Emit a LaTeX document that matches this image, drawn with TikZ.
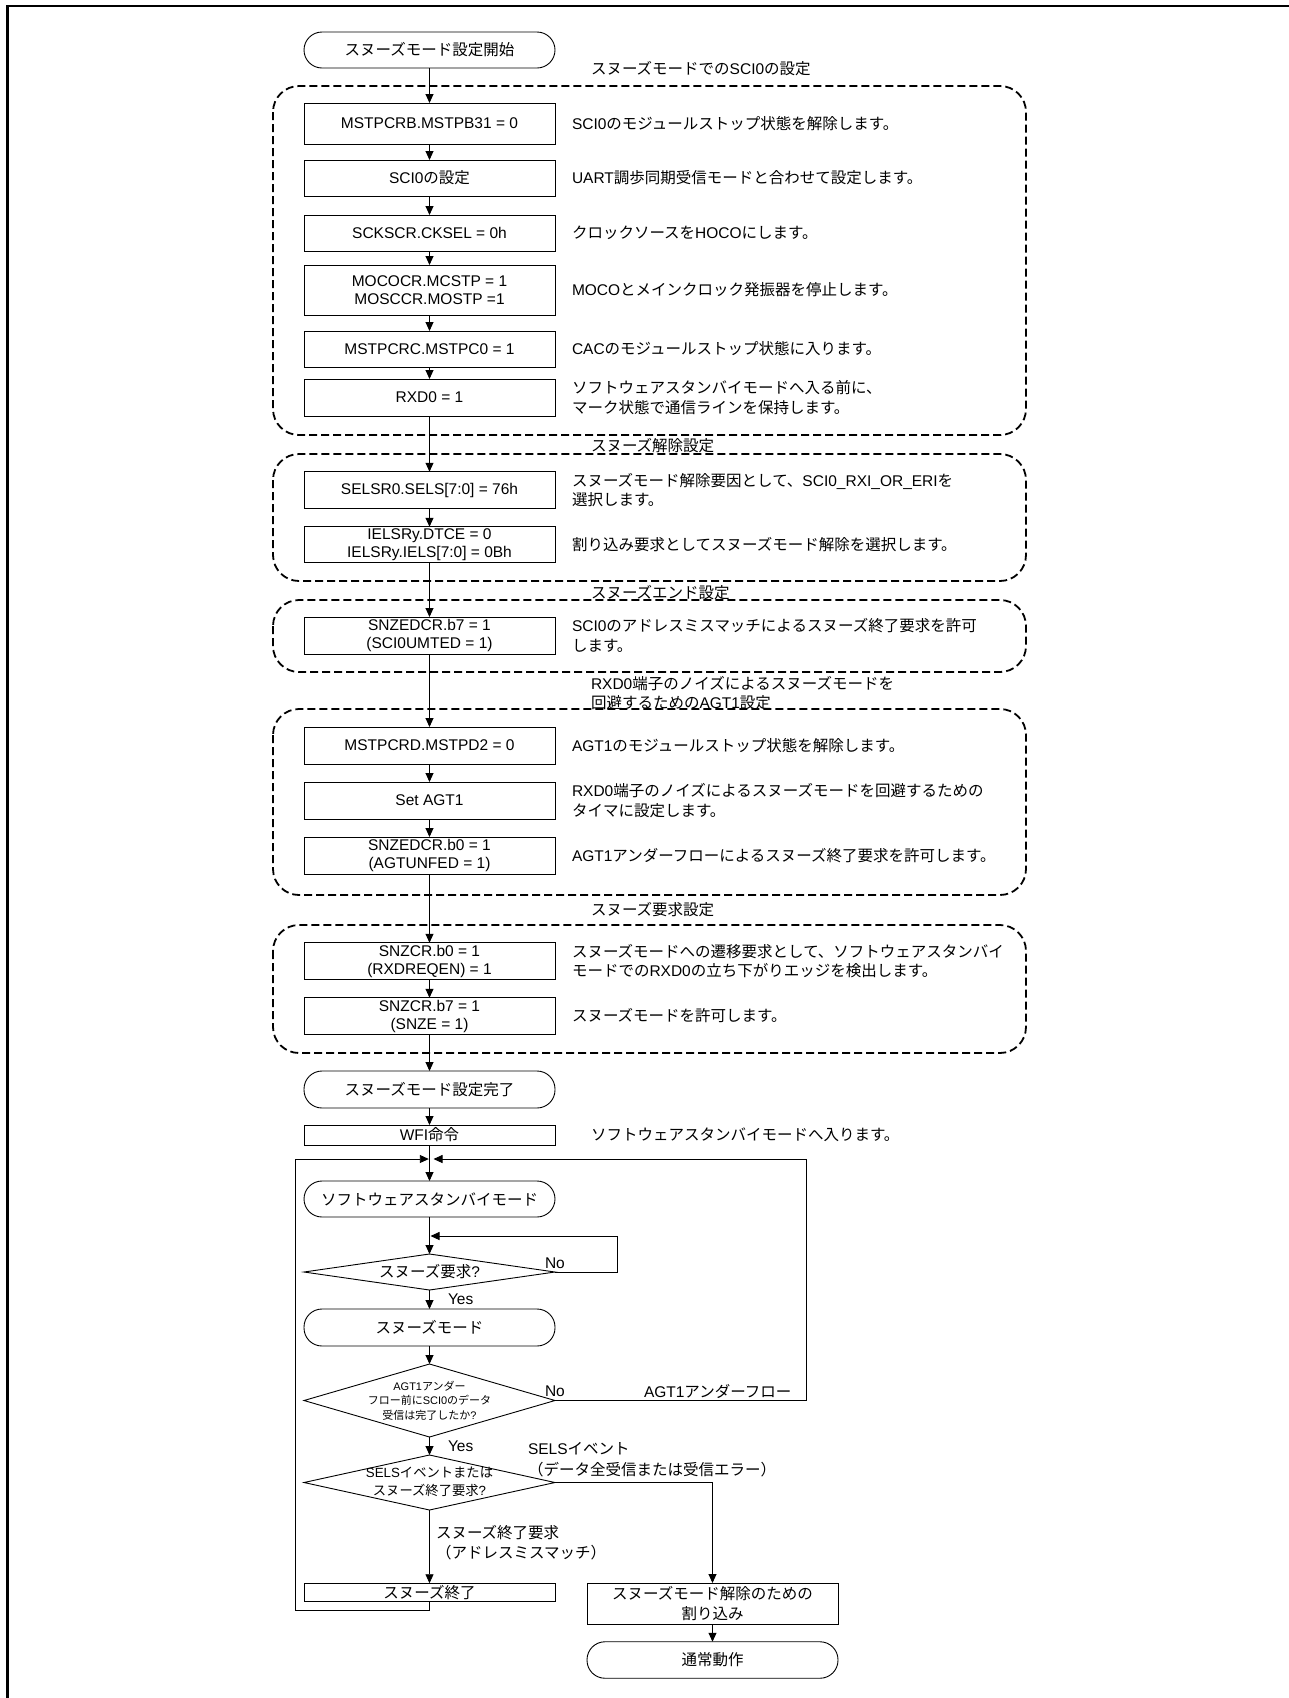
\documentclass[tikz,border=0pt]{standalone}
\usepackage{fontspec}
\setmainfont{Liberation Sans}
\newfontfamily\jpfontx{Noto Sans CJK JP}
\newcommand{\jtxt}[1]{{\jpfontx #1}}
\usetikzlibrary{arrows.meta,shapes.geometric}
\begin{document}
\begin{tikzpicture}[x=1pt,y=-1pt,
 every node/.style={inner sep=0pt,outer sep=0pt,font=\fontsize{15.5}{18}\selectfont},
 pbox/.style={draw,line width=0.9pt,minimum width=251pt,align=center},
 term/.style={pbox,rounded corners=18pt},
 dia/.style={draw,diamond,line width=0.9pt,minimum width=251pt},
 desc/.style={anchor=west,align=left,font=\fontsize{15.5}{19.5}\selectfont},
 lbl/.style={anchor=west,align=left,font=\fontsize{15.5}{20.5}\selectfont},
 arr/.style={line width=0.9pt,-{Triangle[length=9pt,width=8pt]}},
 conn/.style={line width=0.9pt},
 grp/.style={line width=1.8pt,dash pattern=on 8pt off 4pt,rounded corners=26pt},
]
\fill[white] (0,0) rectangle (1289,1698);
\useasboundingbox (0,0) rectangle (1289,1698);
% frame
\draw[line width=2.5pt] (7.3,1698) -- (7.3,6.2) -- (1289,6.2);

% group frames
\draw[grp] (273,86) rectangle (1026,435);
\draw[grp] (273,454) rectangle (1026,581);
\draw[grp] (273,600) rectangle (1026,672);
\draw[grp] (273,709) rectangle (1026,895);
\draw[grp] (273,925) rectangle (1026,1053);

% group titles
\node[anchor=west] (ti1) at (591,69) {\jtxt{スヌーズモードでの}SCI0\jtxt{の設定}};
\node[anchor=west] (ti2) at (591,446) {\jtxt{スヌーズ解除設定}};
\node[anchor=west] (ti3) at (591,593) {\jtxt{スヌーズエンド設定}};
\node[desc,font=\fontsize{15.5}{19}\selectfont] (ti4) at (591,693.5) {RXD0\jtxt{端子のノイズによるスヌーズモードを}\\\jtxt{回避するための}AGT1\jtxt{設定}};
\node[anchor=west] (ti5) at (591,910) {\jtxt{スヌーズ要求設定}};

% main column
\node[term,minimum height=36pt] (n0) at (429.5,50) {\jtxt{スヌーズモード設定開始}};
\node[pbox,minimum height=41pt] (n1) at (429.5,123.5) {MSTPCRB.MSTPB31 = 0};
\node[pbox,minimum height=36pt] (n2) at (429.5,178) {SCI0\jtxt{の設定}};
\node[pbox,minimum height=36pt] (n3) at (429.5,233) {SCKSCR.CKSEL = 0h};
\node[pbox,minimum height=50pt] (n4) at (429.5,290) {MOCOCR.MCSTP = 1\\MOSCCR.MOSTP =1};
\node[pbox,minimum height=36pt] (n5) at (429.5,349) {MSTPCRC.MSTPC0 = 1};
\node[pbox,minimum height=37pt] (n6) at (429.5,397.5) {RXD0 = 1};
\node[pbox,minimum height=36.5pt] (n7) at (429.5,490) {SELSR0.SELS[7:0] = 76h};
\node[pbox,minimum height=35.5pt] (n8) at (429.5,544.5) {IELSRy.DTCE = 0\\IELSRy.IELS[7:0] = 0Bh};
\node[pbox,minimum height=37pt] (n9) at (429.5,635.5) {SNZEDCR.b7 = 1\\(SCI0UMTED = 1)};
\node[pbox,minimum height=37pt] (n10) at (429.5,745.5) {MSTPCRD.MSTPD2 = 0};
\node[pbox,minimum height=37pt] (n11) at (429.5,800.5) {Set AGT1};
\node[pbox,minimum height=37pt] (n12) at (429.5,855.5) {SNZEDCR.b0 = 1\\(AGTUNFED = 1)};
\node[pbox,minimum height=36.5pt] (n13) at (429.5,961) {SNZCR.b0 = 1\\(RXDREQEN) = 1};
\node[pbox,minimum height=36.5pt] (n14) at (429.5,1016) {SNZCR.b7 = 1\\(SNZE = 1)};
\node[term,minimum height=37pt] (n15) at (429.5,1089.5) {\jtxt{スヌーズモード設定完了}};
\node[pbox,minimum height=20pt] (n16) at (429.5,1135) {WFI\jtxt{命令}};
\node[term,minimum height=36pt] (n17) at (429.5,1199) {\jtxt{ソフトウェアスタンバイモード}};
\node[dia,minimum height=36pt] (d1) at (429.5,1272) {};
\node (d1t) at (d1.center) {\jtxt{スヌーズ要求}?};
\node[term,minimum height=37pt] (n18) at (429.5,1327.5) {\jtxt{スヌーズモード}};
\node[dia,minimum height=73pt] (d2) at (429.5,1400.5) {};
\node[align=center,font=\fontsize{11}{14.5}\selectfont] (d2t) at (d2.center) {AGT1\jtxt{アンダー}\\\jtxt{フロー前に}SCI0\jtxt{のデータ}\\\jtxt{受信は完了したか}?};
\node[dia,minimum height=55pt] (d3) at (429.5,1482.5) {};
\node[align=center,font=\fontsize{13.3}{17.7}\selectfont] (d3t) at ([yshift=1pt]d3.center) {SELS\jtxt{イベントまたは}\\\jtxt{スヌーズ終了要求}?};
\node[pbox,minimum height=18.5pt] (n19) at (429.5,1592.5) {\jtxt{スヌーズ終了}};
\node[pbox,minimum height=41pt,font=\fontsize{15.5}{19.3}\selectfont] (n20) at (712.5,1603.5) {\jtxt{スヌーズモード解除のための}\\\jtxt{割り込み}};
\node[term,minimum height=36.5pt] (n21) at (712.5,1660) {\jtxt{通常動作}};

% descriptions
\node[desc] (t1) at ([xshift=17pt]n1.east) {SCI0\jtxt{のモジュールストップ状態を解除します。}};
\node[desc] (t2) at ([xshift=17pt]n2.east) {UART\jtxt{調歩同期受信モードと合わせて設定します。}};
\node[desc] (t3) at ([xshift=17pt]n3.east) {\jtxt{クロックソースを}HOCO\jtxt{にします。}};
\node[desc] (t4) at ([xshift=17pt]n4.east) {MOCO\jtxt{とメインクロック発振器を停止します。}};
\node[desc] (t5) at ([xshift=17pt]n5.east) {CAC\jtxt{のモジュールストップ状態に入ります。}};
\node[desc] (t6) at ([xshift=17pt]n6.east) {\jtxt{ソフトウェアスタンバイモードへ入る前に、}\\\jtxt{マーク状態で通信ラインを保持します。}};
\node[desc] (t7) at ([xshift=17pt]n7.east) {\jtxt{スヌーズモード解除要因として、}SCI0\_RXI\_OR\_ERI\jtxt{を}\\\jtxt{選択します。}};
\node[desc] (t8) at ([xshift=17pt]n8.east) {\jtxt{割り込み要求としてスヌーズモード解除を選択します。}};
\node[desc] (t9) at ([xshift=17pt]n9.east) {SCI0\jtxt{のアドレスミスマッチによるスヌーズ終了要求を許可}\\\jtxt{します。}};
\node[desc] (t10) at ([xshift=17pt]n10.east) {AGT1\jtxt{のモジュールストップ状態を解除します。}};
\node[desc] (t11) at ([xshift=17pt]n11.east) {RXD0\jtxt{端子のノイズによるスヌーズモードを回避するための}\\\jtxt{タイマに設定します。}};
\node[desc] (t12) at ([xshift=17pt]n12.east) {AGT1\jtxt{アンダーフローによるスヌーズ終了要求を許可します。}};
\node[desc,font=\fontsize{15.5}{18.5}\selectfont] (t13) at ([xshift=17pt]n13.east) {\jtxt{スヌーズモードへの遷移要求として、ソフトウェアスタンバイ}\\\jtxt{モードでの}RXD0\jtxt{の立ち下がりエッジを検出します。}};
\node[desc] (t14) at ([xshift=17pt]n14.east) {\jtxt{スヌーズモードを許可します。}};
\node[desc] (t16) at (591,1135) {\jtxt{ソフトウェアスタンバイモードへ入ります。}};

% branch labels
\node[lbl] (no1) at (545,1263) {No};
\node[lbl] (yes1) at (448,1299) {Yes};
\node[lbl] (no2) at (545,1391) {No};
\node[lbl] (uf) at (644,1391) {AGT1\jtxt{アンダーフロー}};
\node[lbl] (yes2) at (448,1446) {Yes};
\node[lbl,font=\fontsize{15.5}{21}\selectfont] (sels) at (528,1459.5) {SELS\jtxt{イベント}\\\jtxt{（データ全受信または受信エラー）}};
\node[lbl,font=\fontsize{15.5}{20}\selectfont] (snzend) at (436,1543) {\jtxt{スヌーズ終了要求}\\\jtxt{（アドレスミスマッチ）}};

% helper coordinates
\coordinate (jL) at (428.8,1159);
\coordinate (jR) at (433.5,1159);
\coordinate (cl) at (295,1159);
\coordinate (cr) at (806,1159);
\coordinate (r1) at (617,1236);
\coordinate (r1t) at (430.5,1236);

% connectors
\draw[arr] (n0) -- (n1);
\draw[arr] (n1) -- (n2);
\draw[arr] (n2) -- (n3);
\draw[arr] (n3) -- (n4);
\draw[arr] (n4) -- (n5);
\draw[arr] (n5) -- (n6);
\draw[arr] (n6) -- (n7);
\draw[arr] (n7) -- (n8);
\draw[arr] (n8) -- (n9);
\draw[arr] (n9) -- (n10);
\draw[arr] (n10) -- (n11);
\draw[arr] (n11) -- (n12);
\draw[arr] (n12) -- (n13);
\draw[arr] (n13) -- (n14);
\draw[arr] (n14) -- (n15);
\draw[arr] (n15) -- (n16);
\draw[arr] (n16) -- (n17);
\draw[arr] (n17) -- (d1.north);
\draw[arr] (d1.east) -| (r1) -- (r1t);
\draw[arr] (d1.south) -- (n18);
\draw[arr] (n18) -- (d2.north);
\draw[arr] (d2.east) -| (cr) -- (jR);
\draw[arr] (d2.south) -- (d3.north);
\draw[arr] (d3.south) -- (n19.north);
\draw[arr] (d3.east) -| (n20.north);
\draw[arr] (n19.south) -- ++(0,9) -| (cl) -- (jL);
\draw[arr] (n20) -- (n21);
\end{tikzpicture}
\end{document}
